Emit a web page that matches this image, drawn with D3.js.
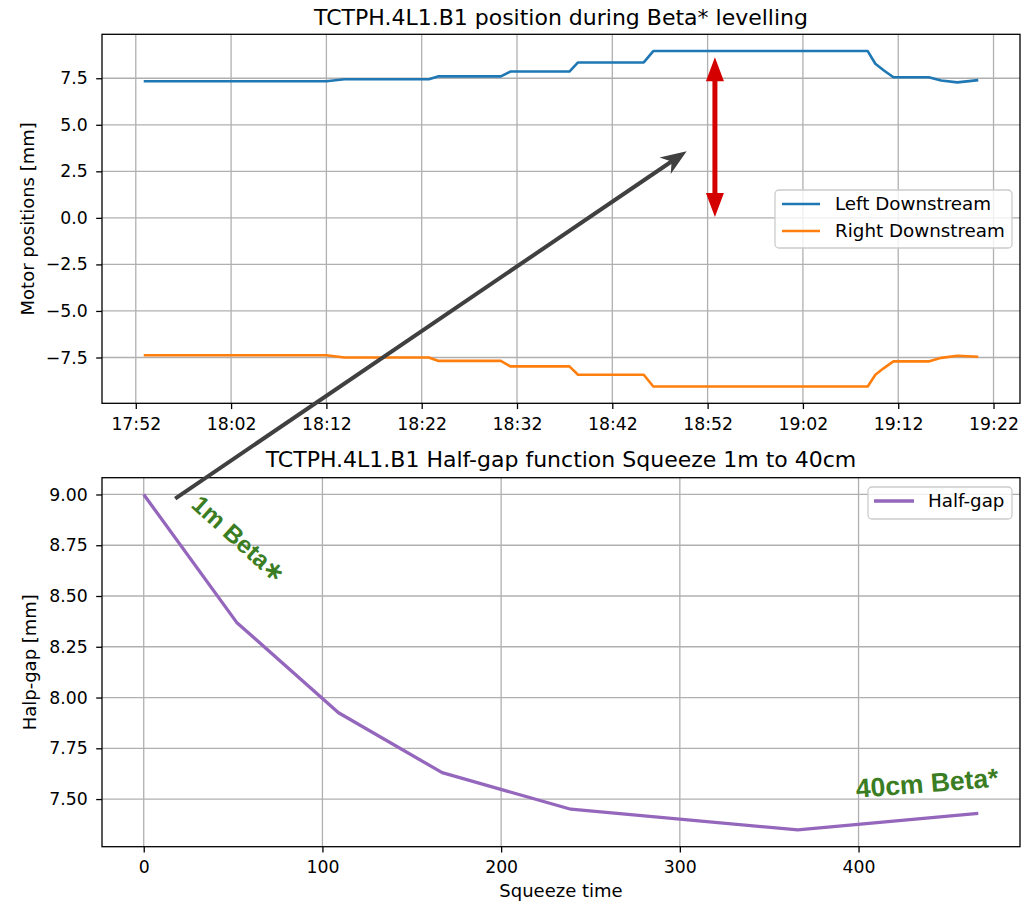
<!DOCTYPE html>
<html lang="en">
<head>
<meta charset="UTF-8">
<title>TCTPH.4L1.B1 Beta* levelling</title>
<style>
  body { margin: 0; background: #fff; }
  svg { display: block; font-family: "DejaVu Sans", sans-serif; }
  .grid line { stroke: #b0b0b0; stroke-width: 1.3; }
  .axis path { display: none; }
  .axis line { stroke: #000; stroke-width: 1.3; }
  .axis text { font-size: 17.3px; fill: #000; font-family: "DejaVu Sans", sans-serif; }
  .title { font-size: 22px; }
  .label { font-size: 18px; }
  .legend text { font-size: 18.3px; }
  .note { font-family: "Liberation Sans", Arial, sans-serif; font-weight: bold; fill: #3a7d22; }
</style>
</head>
<body>
<svg id="chart" width="1032" height="902"></svg>
<script src="https://d3js.org/d3.v7.min.js"></script>
<script>
// top panel: motor positions vs time
const timeTicks = ["17:52", "18:02", "18:12", "18:22", "18:32", "18:42", "18:52", "19:02", "19:12", "19:22"];
const sampleTimes = ["17:52:50", "18:12:00", "18:13:54", "18:22:45", "18:23:42", "18:30:18", "18:31:18",
  "18:37:30", "18:38:24", "18:45:18", "18:46:18", "19:08:48", "19:09:36", "19:10:30", "19:11:30",
  "19:15:12", "19:16:30", "19:18:12", "19:20:24"];
const leftDownstream = [7.34, 7.34, 7.45, 7.45, 7.60, 7.60, 7.86, 7.86, 8.35, 8.35, 8.96, 8.96,
  8.28, 7.92, 7.55, 7.55, 7.38, 7.28, 7.40];
const rightDownstream = [-7.38, -7.38, -7.50, -7.50, -7.68, -7.68, -7.98, -7.98, -8.43, -8.43, -9.06, -9.06,
  -8.43, -8.07, -7.71, -7.71, -7.52, -7.41, -7.46];
const posTicks = [-7.5, -5.0, -2.5, 0.0, 2.5, 5.0, 7.5];

// bottom panel: half-gap function
const squeezeTime = [0, 52, 109, 167, 239, 366, 467];
const halfGap = [9.00, 8.37, 7.925, 7.63, 7.45, 7.348, 7.43];
const squeezeTicks = [0, 100, 200, 300, 400];
const gapTicks = [7.50, 7.75, 8.00, 8.25, 8.50, 8.75, 9.00];

// annotations (data coordinates)
const redArrowTime = "18:52:46";
const redArrowRange = [0.05, 8.63];
const grayFrom = [17.6, 8.98];          // bottom panel: squeeze time, half-gap
const grayTo = ["18:49:48", 3.58];      // top panel: time, position

const parseT = d3.timeParse("%H:%M:%S");
const parseTick = d3.timeParse("%H:%M");
const svg = d3.select("#chart");

function padded(ext) {
  const p = (ext[1] - ext[0]) * 0.05;
  return [ext[0] - p, ext[1] + p];
}

const L = 102, R = 1020;
const top1 = 34.3, bot1 = 403.3;
const top2 = 477.7, bot2 = 846.7;

const times = sampleTimes.map(parseT);
const tExt = d3.extent(times).map(d => +d);
const x1 = d3.scaleTime().domain(padded(tExt).map(d => new Date(d))).range([L, R]);
const y1 = d3.scaleLinear()
  .domain(padded(d3.extent(leftDownstream.concat(rightDownstream))))
  .range([bot1, top1]);

const x2 = d3.scaleLinear().domain(padded(d3.extent(squeezeTime))).range([L, R]);
const y2 = d3.scaleLinear().domain(padded(d3.extent(halfGap))).range([bot2, top2]);

function panel(x, y, top, bot, xTicks, yTicks, xFmt, yFmt) {
  const g = svg.append("g");
  const grid = g.append("g").attr("class", "grid");
  grid.selectAll(".gx").data(xTicks).join("line")
    .attr("x1", d => x(d)).attr("x2", d => x(d)).attr("y1", top).attr("y2", bot);
  grid.selectAll(".gy").data(yTicks).join("line")
    .attr("y1", d => y(d)).attr("y2", d => y(d)).attr("x1", L).attr("x2", R);
  g.append("g").attr("class", "axis").attr("transform", `translate(0,${bot})`)
    .call(d3.axisBottom(x).tickValues(xTicks).tickFormat(xFmt).tickSize(5.8).tickPadding(8.6));
  g.append("g").attr("class", "axis").attr("transform", `translate(${L},0)`)
    .call(d3.axisLeft(y).tickValues(yTicks).tickFormat(yFmt).tickSize(5.8).tickPadding(8.5));
  return g;
}

// ---- top panel
const g1 = panel(x1, y1, top1, bot1, timeTicks.map(parseTick), posTicks, d3.timeFormat("%H:%M"), d3.format(".1f"));
const line1 = d3.line().x((d, i) => x1(times[i])).y(d => y1(d));
g1.append("path").datum(leftDownstream).attr("d", line1)
  .attr("fill", "none").attr("stroke", "#1f77b4").attr("stroke-width", 2.6).attr("stroke-linejoin", "round");
g1.append("path").datum(rightDownstream).attr("d", line1)
  .attr("fill", "none").attr("stroke", "#ff7f0e").attr("stroke-width", 2.6).attr("stroke-linejoin", "round");
g1.append("rect").attr("x", L).attr("y", top1).attr("width", R - L).attr("height", bot1 - top1)
  .attr("fill", "none").attr("stroke", "#000").attr("stroke-width", 1.3);
svg.append("text").attr("class", "title").attr("x", (L + R) / 2).attr("y", 24.5)
  .attr("text-anchor", "middle").text("TCTPH.4L1.B1 position during Beta* levelling");
svg.append("text").attr("class", "label").attr("text-anchor", "middle")
  .attr("transform", `translate(34,${(top1 + bot1) / 2}) rotate(-90)`).text("Motor positions [mm]");

// legend top
const lg1 = svg.append("g").attr("class", "legend");
lg1.append("rect").attr("x", 775).attr("y", 190).attr("width", 237).attr("height", 58).attr("rx", 4)
  .attr("fill", "#fff").attr("fill-opacity", 0.8).attr("stroke", "#cccccc").attr("stroke-width", 1.3);
[["Left Downstream", "#1f77b4"], ["Right Downstream", "#ff7f0e"]].forEach(([name, c], i) => {
  const yy = 204 + i * 27;
  lg1.append("line").attr("x1", 782).attr("x2", 820).attr("y1", yy).attr("y2", yy)
    .attr("stroke", c).attr("stroke-width", 2.6);
  lg1.append("text").attr("x", 835).attr("y", yy).attr("dy", "0.35em").text(name);
});

// ---- bottom panel
const g2 = panel(x2, y2, top2, bot2, squeezeTicks, gapTicks, d3.format("d"), d3.format(".2f"));
const line2 = d3.line().x((d, i) => x2(squeezeTime[i])).y(d => y2(d));
g2.append("path").datum(halfGap).attr("d", line2)
  .attr("fill", "none").attr("stroke", "#9467bd").attr("stroke-width", 3.3).attr("stroke-linejoin", "round");
g2.append("rect").attr("x", L).attr("y", top2).attr("width", R - L).attr("height", bot2 - top2)
  .attr("fill", "none").attr("stroke", "#000").attr("stroke-width", 1.3);
svg.append("text").attr("class", "title").attr("x", (L + R) / 2).attr("y", 467)
  .attr("text-anchor", "middle").text("TCTPH.4L1.B1 Half-gap function Squeeze 1m to 40cm");
svg.append("text").attr("class", "label").attr("text-anchor", "middle")
  .attr("transform", `translate(36,${(top2 + bot2) / 2}) rotate(-90)`).text("Halp-gap [mm]");
svg.append("text").attr("class", "label").attr("text-anchor", "middle")
  .attr("x", (L + R) / 2).attr("y", 897).text("Squeeze time");

const lg2 = svg.append("g").attr("class", "legend");
lg2.append("rect").attr("x", 868).attr("y", 487).attr("width", 144).attr("height", 32).attr("rx", 4)
  .attr("fill", "#fff").attr("fill-opacity", 0.8).attr("stroke", "#cccccc").attr("stroke-width", 1.3);
lg2.append("line").attr("x1", 874).attr("x2", 914).attr("y1", 501).attr("y2", 501)
  .attr("stroke", "#9467bd").attr("stroke-width", 3.3);
lg2.append("text").attr("x", 928).attr("y", 501).attr("dy", "0.35em").text("Half-gap");

// ---- annotations
svg.append("text").attr("class", "note").attr("font-size", 24.5).attr("text-anchor", "middle")
  .attr("transform", "translate(239,539) rotate(42)").attr("dy", "0.35em").text("1m Beta∗");
svg.append("text").attr("class", "note").attr("font-size", 26.5).attr("text-anchor", "middle")
  .attr("transform", "translate(927,783) rotate(-4.5)").attr("dy", "0.35em").text("40cm Beta*");

// red double arrow
const rx = x1(parseT(redArrowTime));
const ry0 = y1(redArrowRange[0]), ry1 = y1(redArrowRange[1]);
const headL = 24, headW = 9;
svg.append("line").attr("x1", rx).attr("x2", rx).attr("y1", ry1 + headL - 2).attr("y2", ry0 - headL + 2)
  .attr("stroke", "#d40000").attr("stroke-width", 5);
svg.append("path").attr("fill", "#d40000")
  .attr("d", `M${rx},${ry1} L${rx + headW},${ry1 + headL} L${rx - headW},${ry1 + headL} Z
              M${rx},${ry0} L${rx + headW},${ry0 - headL} L${rx - headW},${ry0 - headL} Z`);

// gray arrow from bottom panel to top panel
const ax0 = x2(grayFrom[0]), ay0 = y2(grayFrom[1]);
const ax1 = x1(parseT(grayTo[0])), ay1 = y1(grayTo[1]);
const len = Math.hypot(ax1 - ax0, ay1 - ay0);
const ux = (ax1 - ax0) / len, uy = (ay1 - ay0) / len;
const nx = -uy, ny = ux;
const gL = 26, gW = 10;
svg.append("line").attr("x1", ax0).attr("y1", ay0)
  .attr("x2", ax1 - ux * gL * 0.6).attr("y2", ay1 - uy * gL * 0.6)
  .attr("stroke", "#404040").attr("stroke-width", 4);
svg.append("path").attr("fill", "#404040")
  .attr("d", `M${ax1},${ay1} L${ax1 - ux * gL + nx * gW},${ay1 - uy * gL + ny * gW}
              L${ax1 - ux * gL * 0.7},${ay1 - uy * gL * 0.7}
              L${ax1 - ux * gL - nx * gW},${ay1 - uy * gL - ny * gW} Z`);
</script>
</body>
</html>
